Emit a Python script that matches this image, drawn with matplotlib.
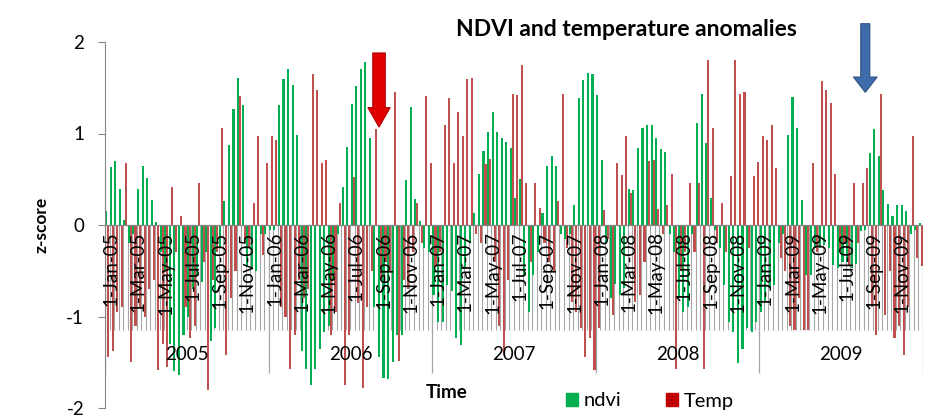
import matplotlib
matplotlib.use("Agg")
import matplotlib.pyplot as plt
import numpy as np
from matplotlib.patches import Patch

# dekadal z-scores, 36 per year (2005-2009)
ndvi_2005 = [0.15, 0.63, 0.70, 0.39, 0.05, -0.20, -0.10, 0.39, 0.64, 0.51, 0.27, 0.03,
             -0.30, -0.50, -1.30, -1.60, -1.64, -1.20, -1.00, -0.70, -0.55, -0.62, -0.30, -1.27,
             -1.13, -0.25, 0.26, 0.87, 1.27, 1.61, 1.31, -0.45, -0.47, -0.50, -0.10, -0.10]
temp_2005 = [-1.44, -1.38, -0.95, -0.90, 0.68, -1.50, -1.10, -0.90, -1.00, -0.70, -0.60, -1.58,
             -1.30, -1.55, 0.42, -0.30, 0.10, -0.90, -1.24, -1.10, 0.46, -0.40, -1.80, -0.60,
             -0.30, 1.06, -1.42, -0.80, -0.50, 1.41, -0.20, -0.25, 0.24, 0.97, -0.33, 0.68]
ndvi_2006 = [-0.05, -0.05, 1.31, 1.60, 1.71, 1.53, 0.98, -1.38, -1.57, -1.75, -1.57, -1.35,
             -1.17, -1.10, -0.60, -0.10, 0.42, 0.85, 1.32, 1.52, 1.71, 1.78, 0.95, -0.90,
             -1.44, -1.67, -1.68, -1.50, -1.20, -1.20, 0.49, 1.29, 0.28, 0.04, -0.25, -0.30]
temp_2006 = [0.97, 0.93, -0.90, -1.00, -1.57, -1.20, -0.60, -0.80, -0.70, 1.65, 1.48, 0.68,
             0.71, -1.20, -0.95, 0.24, -1.75, -1.20, 0.53, -0.85, -1.78, -0.90, -0.50, 1.05,
             -0.60, -0.40, -0.50, 1.45, -1.49, -0.60, -0.70, -0.30, 0.24, -0.20, 1.41, 0.68]
ndvi_2007 = [-0.77, -1.06, -1.06, -0.66, -0.72, -1.24, -1.31, -0.47, -0.20, 0.13, 0.56, 0.81,
             1.02, 1.24, 1.02, 0.95, 0.91, 0.84, 0.30, 0.50, -0.55, -0.95, -0.55, -0.30,
             0.13, 0.64, 0.75, 0.64, -0.10, -0.15, -0.10, 0.22, 1.39, 1.58, 1.66, 1.65]
temp_2007 = [-0.45, -0.30, 1.09, 1.39, 0.68, 1.23, 0.97, 1.60, 1.61, -0.10, -0.20, 0.67,
             0.72, -0.40, -1.10, -1.42, -0.60, 1.43, 1.42, 1.75, 0.46, -0.40, 0.46, 0.19,
             -0.20, -0.40, -0.50, 0.26, 1.43, -0.25, -0.84, -0.95, -1.13, -1.44, -1.24, -1.58]
ndvi_2008 = [1.42, 0.71, -0.20, -0.80, -0.64, -0.77, -0.69, 0.39, 0.38, 0.84, 1.06, 1.09,
             1.09, 0.95, 0.83, 0.80, -0.10, -0.30, -0.80, -0.95, -0.90, -0.10, 1.11, 1.43,
             0.90, 0.30, -0.05, -0.25, -0.66, -1.06, -1.17, -1.51, -1.35, -1.13, -1.17, -1.06]
temp_2008 = [-1.13, 0.16, -0.15, -0.98, 0.68, 0.55, 0.97, 0.35, -0.84, -0.77, -0.40, 0.70,
             0.71, 0.18, -0.10, 0.22, 0.56, -1.57, -0.50, -0.30, 0.46, -0.30, 0.46, -1.57,
             1.80, 1.06, -0.20, 0.24, -0.30, 0.54, 1.80, 1.43, 1.45, -0.25, 0.54, 0.69]
ndvi_2009 = [-0.95, -0.84, -0.69, -0.66, -0.20, -0.10, 0.98, 1.40, 1.06, 0.27, -0.55, -0.55,
             -0.25, -0.25, -0.22, -0.25, -0.44, -0.47, -0.40, -0.40, -0.47, -0.43, -0.07, -0.05,
             0.79, 1.05, 0.75, 0.38, 0.23, 0.10, 0.22, 0.22, 0.15, -0.10, -0.05, 0.02]
temp_2009 = [0.97, 0.93, 1.09, 0.62, -0.36, -0.50, -1.10, -1.15, -0.80, -1.15, -1.15, 0.68,
             -0.30, 1.57, 1.48, 1.33, 0.56, -0.30, -0.20, -0.45, 0.46, -0.20, 0.46, 0.62,
             -0.90, -1.20, 1.43, -0.98, -0.50, -1.24, -1.10, -1.42, -0.90, 0.97, -0.36, -0.45]

years = ["2005", "2006", "2007", "2008", "2009"]
months = ["Jan", "Mar", "May", "Jul", "Sep", "Nov"]

ndvi = np.array(ndvi_2005 + ndvi_2006 + ndvi_2007 + ndvi_2008 + ndvi_2009)
temp = np.array(temp_2005 + temp_2006 + temp_2007 + temp_2008 + temp_2009)
n = len(ndvi)
x = np.arange(n)

plt.rcParams['font.family'] = ['Lato', 'DejaVu Sans']

fig = plt.figure(figsize=(9.43, 4.2), dpi=100)
ax = fig.add_axes([105 / 943, 12 / 420, 818 / 943, 366 / 420])

# category tick lines and year separators
ax.vlines(np.arange(n + 1) - 0.5, -1.15, 0, color='#A6A6A6', lw=0.8, zorder=1)
ax.vlines(np.arange(0, n + 1, 36) - 0.5, -1.62, 0, color='#A6A6A6', lw=0.9, zorder=1)

ax.bar(x - 0.22, ndvi, width=0.46, color='#00B050', zorder=2)
ax.bar(x + 0.22, temp, width=0.46, color='#C0504D', zorder=2)

ax.axhline(0, color='#868686', lw=0.9, zorder=3)

for yi, yr in enumerate(years):
    for mi, m in enumerate(months):
        ax.text(yi * 36 + mi * 6 + 0.8, -0.07, "1-%s-%s" % (m, yr[2:]), rotation=90,
                ha='center', va='top', fontsize=13.5, zorder=4)
    ax.text(yi * 36 + 17.5, -1.42, yr, ha='center', va='center', fontsize=13.5, zorder=4)

ax.set_xlim(-0.5, n - 0.5)
ax.set_ylim(-2, 2)
ax.set_yticks([-2, -1, 0, 1, 2])
ax.set_yticklabels(['-2', '-1', '0', '1', '2'], fontsize=13.5)
ax.set_xticks([])
for s in ['top', 'right', 'bottom']:
    ax.spines[s].set_visible(False)
ax.spines['left'].set_color('#868686')
ax.tick_params(axis='y', color='#868686', length=5, pad=10)
ax.set_ylabel('z-score', fontsize=12.5, fontweight='bold', labelpad=12)

fig.text(626 / 943, 1 - 30 / 420, 'NDVI and temperature anomalies', ha='center', va='center',
         fontsize=16.5, fontweight='bold')
fig.text(447 / 943, 1 - 392 / 420, 'Time', ha='center', va='center', fontsize=13.5, fontweight='bold')

handles = [Patch(color='#00B050', label='ndvi'), Patch(color='#C00000', label='Temp')]
fig.legend(handles=handles, loc='center', bbox_to_anchor=(650 / 943, 1 - 401 / 420), ncol=2,
           frameon=False, fontsize=14.5, handlelength=0.6, handleheight=0.6, handletextpad=0.3,
           columnspacing=2.2)

# arrows marking events
ax.annotate('', xy=(59.8, 1.07), xytext=(59.8, 1.88), annotation_clip=False,
            arrowprops=dict(arrowstyle='simple,head_length=1.4,head_width=1.6,tail_width=0.9',
                            fc='#E00000', ec='#B00000', lw=0.8, mutation_scale=10, shrinkA=0, shrinkB=0))
ax.annotate('', xy=(166.8, 1.45), xytext=(166.8, 2.2), annotation_clip=False,
            arrowprops=dict(arrowstyle='simple,head_length=1.1,head_width=1.7,tail_width=0.65',
                            fc='#3E6BAA', ec='#2B4F82', lw=0.8, mutation_scale=10, shrinkA=0, shrinkB=0))

fig.savefig('out.png', dpi=100)
